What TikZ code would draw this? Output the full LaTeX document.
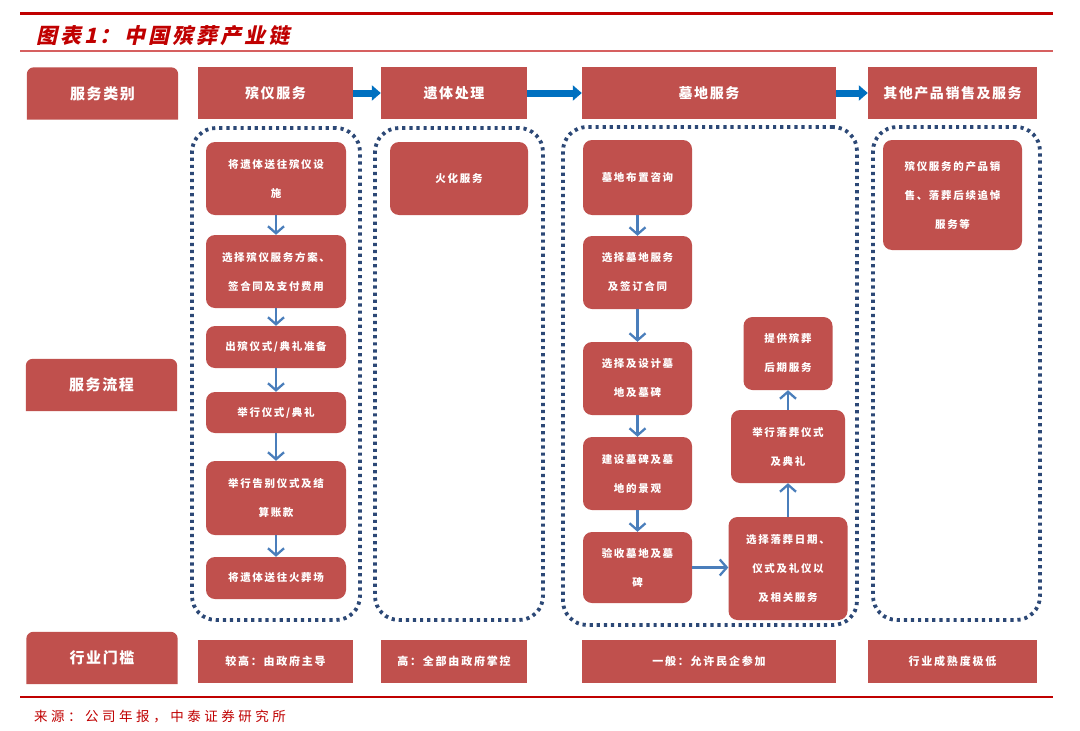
\documentclass[tikz,border=0pt]{standalone}
\usepackage{fontspec}
\setmainfont{Noto Sans CJK SC}
\newfontfamily\titlefont[FakeSlant=0.22,LetterSpace=14]{Noto Sans CJK SC}
\newfontfamily\headfont[LetterSpace=11]{Noto Sans CJK SC}
\newfontfamily\boxfont[LetterSpace=16]{Noto Sans CJK SC}
\newfontfamily\notefont[LetterSpace=26]{Noto Sans CJK SC}
\usetikzlibrary{arrows.meta,positioning}
\definecolor{boxred}{RGB}{192,80,77}
\definecolor{darkred}{RGB}{192,0,0}
\definecolor{linered}{RGB}{214,96,96}
\definecolor{arrowblue}{RGB}{0,112,192}
\definecolor{flowblue}{RGB}{74,126,187}
\definecolor{dotnavy}{RGB}{44,72,118}
\pgfdeclarelayer{background}
\pgfsetlayers{background,main}

\begin{document}
\begin{tikzpicture}[x=1pt,y=-1pt,
    head/.style={fill=boxred,text=white,inner sep=0,minimum height=52,font=\headfont\bfseries\fontsize{14}{18}\selectfont},
    label/.style={inner sep=0,text=white,minimum width=151,minimum height=52,font=\headfont\bfseries\fontsize{15}{18}\selectfont},
    gate/.style={fill=boxred,text=white,inner sep=0,minimum height=43,font=\boxfont\bfseries\fontsize{11}{14}\selectfont},
    stepbox/.style={fill=boxred,text=white,rounded corners=9pt,inner sep=0,align=center,font=\boxfont\bfseries\fontsize{10.5}{29}\selectfont},
    frame/.style={draw=dotnavy,line width=3.8pt,dash pattern=on 3.2pt off 3.9pt,rounded corners=24pt,inner sep=0},
    bigarrow/.style={draw=arrowblue,line width=7pt,-{Triangle[length=9pt,width=15pt]}},
    flow/.style={draw=flowblue,line width=2.3pt,-{Straight Barb[length=7pt,width=16pt]}}]

    % title and rules
    \draw[darkred,line width=3pt] (20,13) -- (1053,13);
    \node[anchor=west,inner sep=0,text=darkred,font=\titlefont\bfseries\fontsize{21}{24}\selectfont] (title) at (36,36) {图表1：\hspace{4pt}中国殡葬产业链};
    \draw[linered,line width=1.2pt] (20,51) -- (1053,51);
    \draw[darkred,line width=1.2pt] (20,697) -- (1053,697);
    \node[anchor=west,inner sep=0,text=darkred,font=\notefont\fontsize{13.5}{16}\selectfont] (source) at (34,716) {来源：公司年报，中泰证券研究所};

    % row labels
    \node[label] (cat) at (102.5,93.5) {服务类别};
    \node[label] (proc) at (101.5,385) {服务流程};
    \node[label] (gate) at (102,658) {行业门槛};
    \begin{pgfonlayer}{background}
        \fill[white] (0,0) rectangle (1080,731);
        \foreach \n in {cat,proc,gate}
            \fill[boxred] (\n.south west) [rounded corners=7pt] -- (\n.north west) -- (\n.north east) [sharp corners] -- (\n.south east) -- cycle;
    \end{pgfonlayer}

    % headers
    \node[head,minimum width=155] (h1) at (275.5,93) {殡仪服务};
    \node[head,minimum width=146] (h2) at (454,93) {遗体处理};
    \node[head,minimum width=254] (h3) at (709,93) {墓地服务};
    \node[head,minimum width=169] (h4) at (952.5,93) {其他产品销售及服务};
    \foreach \a/\b in {h1/h2,h2/h3,h3/h4}
        \draw[bigarrow] (\a) -- (\b);

    % frames
    \node[frame,minimum width=168,minimum height=492] (f1) at (276,374) {};
    \node[frame,minimum width=168,minimum height=492] (f2) at (459,374) {};
    \node[frame,minimum width=294,minimum height=498] (f3) at (710,376) {};
    \node[frame,minimum width=167,minimum height=493] (f4) at (956.5,373.5) {};

    % funeral services
    \node[stepbox,minimum width=140,minimum height=73] (a1) at (276,178.5) {将遗体送往殡仪设\\施};
    \node[stepbox,minimum width=140,minimum height=73] (a2) at (276,271.5) {选择殡仪服务方案、\\签合同及支付费用};
    \node[stepbox,minimum width=140,minimum height=42] (a3) at (276,347) {出殡仪式/典礼准备};
    \node[stepbox,minimum width=140,minimum height=41] (a4) at (276,412.5) {举行仪式/典礼};
    \node[stepbox,minimum width=140,minimum height=74] (a5) at (276,498) {举行告别仪式及结\\算账款};
    \node[stepbox,minimum width=140,minimum height=42] (a6) at (276,578) {将遗体送往火葬场};
    \foreach \a/\b in {a1/a2,a2/a3,a3/a4,a4/a5,a5/a6}
        \draw[flow] (\a) -- (\b);

    % body handling
    \node[stepbox,minimum width=138,minimum height=73] (c1) at (459,178.5) {火化服务};

    % cemetery services
    \node[stepbox,minimum width=109,minimum height=75] (m1) at (637.5,177.5) {墓地布置咨询};
    \node[stepbox,minimum width=109,minimum height=73] (m2) at (637.5,272.5) {选择墓地服务\\及签订合同};
    \node[stepbox,minimum width=109,minimum height=73] (m3) at (637.5,378.5) {选择及设计墓\\地及墓碑};
    \node[stepbox,minimum width=109,minimum height=73] (m4) at (637.5,473.5) {建设墓碑及墓\\地的景观};
    \node[stepbox,minimum width=109,minimum height=71] (m5) at (637.5,567.5) {验收墓地及墓\\碑};
    \foreach \a/\b in {m1/m2,m2/m3,m3/m4,m4/m5}
        \draw[flow] (\a) -- (\b);

    \node[stepbox,minimum width=119,minimum height=103] (r1) at (788,568.5) {选择落葬日期、\\仪式及礼仪以\\及相关服务};
    \node[stepbox,minimum width=114,minimum height=73] (r2) at (788,446.5) {举行落葬仪式\\及典礼};
    \node[stepbox,minimum width=89,minimum height=73] (r3) at (788,353.5) {提供殡葬\\后期服务};
    \draw[flow] (m5.east) -- (m5.east -| r1.west);
    \draw[flow] (r1) -- (r2);
    \draw[flow] (r2) -- (r3);

    % other products
    \node[stepbox,minimum width=139,minimum height=110] (p1) at (952.5,195) {殡仪服务的产品销\\售、落葬后续追悼\\服务等};

    % barrier row
    \node[gate,minimum width=155] (b1) at (275.5,661.5) {较高：由政府主导};
    \node[gate,minimum width=146] (b2) at (454,661.5) {高：全部由政府掌控};
    \node[gate,minimum width=254] (b3) at (709,661.5) {一般：允许民企参加};
    \node[gate,minimum width=169] (b4) at (952.5,661.5) {行业成熟度极低};

\end{tikzpicture}
\end{document}
